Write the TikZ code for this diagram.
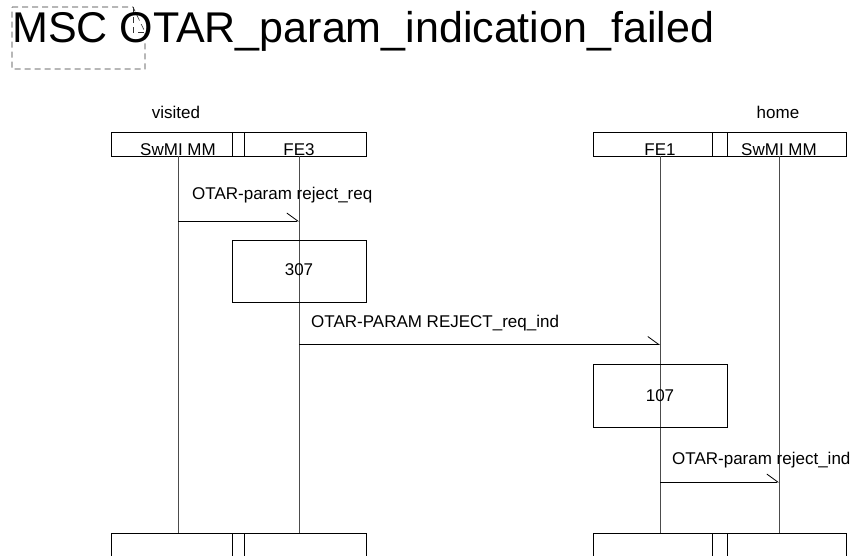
\documentclass[tikz,border=0pt]{standalone}
\usepackage{fontspec}
\setmainfont{Liberation Sans}
\usetikzlibrary{arrows.meta}
\begin{document}
\begin{tikzpicture}[x=1pt,y=-1pt,
  box/.style={draw, line width=0.8pt, inner sep=0pt, rectangle},
  lbl/.style={font=\fontsize{17}{20}\selectfont, inner sep=0pt},
  life/.style={line width=1pt, black!70},
  msg/.style={line width=0.8pt, -{Straight Barb[left, length=11pt, width=16pt, line width=0.8pt]}},
  frame/.style={line width=0.6pt, black!80, dash pattern=on 6pt off 4pt},
]
\useasboundingbox (0,0) rectangle (862,555);
\clip (0,0) rectangle (862,555);

% title and frame
\draw[frame] (12,7) -- (133,7) -- (145,32) -- (145,69) -- (12,69) -- cycle;
\draw[frame] (133,7) -- (133,32) -- (145,32);
\node[anchor=base west, inner sep=0pt, font=\fontsize{43}{48}\selectfont] (title) at (12,42) {MSC OTAR\_param\_indication\_failed};

% group labels
\node[lbl, anchor=base] (visited) at (176,118) {visited};
\node[lbl, anchor=base] (home) at (778,118) {home};

% header boxes
\node[box, minimum width=121pt, minimum height=24pt] (hA) at (171.5,144) {};
\node[box, minimum width=12pt, minimum height=24pt] (hAB) at (238,144) {};
\node[box, minimum width=122pt, minimum height=24pt] (hB) at (305,144) {};
\node[box, minimum width=119pt, minimum height=24pt] (hC) at (652.5,144) {};
\node[box, minimum width=15pt, minimum height=24pt] (hCD) at (719.5,144) {};
\node[box, minimum width=119pt, minimum height=24pt] (hD) at (786.5,144) {};

\node[lbl, anchor=base] (tA) at (178,155) {SwMI MM};
\node[lbl, anchor=base] (tB) at (299,155) {FE3};
\node[lbl, anchor=base] (tC) at (660,155) {FE1};
\node[lbl, anchor=base] (tD) at (779,155) {SwMI MM};

% footer boxes
\node[box, minimum width=121pt, minimum height=40pt] (fA) at (171.5,553) {};
\node[box, minimum width=12pt, minimum height=40pt] (fAB) at (238,553) {};
\node[box, minimum width=122pt, minimum height=40pt] (fB) at (305,553) {};
\node[box, minimum width=119pt, minimum height=40pt] (fC) at (652.5,553) {};
\node[box, minimum width=15pt, minimum height=40pt] (fCD) at (719.5,553) {};
\node[box, minimum width=119pt, minimum height=40pt] (fD) at (786.5,553) {};

% lifeline ends
\coordinate (lA1) at (178,156); \coordinate (lA2) at (178,533);
\coordinate (lB1) at (299,156); \coordinate (lB2) at (299,533);
\coordinate (lC1) at (660,156); \coordinate (lC2) at (660,533);
\coordinate (lD1) at (779,156); \coordinate (lD2) at (779,533);
\draw[life] (lA1) -- (lA2);
\draw[life] (lB1) -- (lB2);
\draw[life] (lC1) -- (lC2);
\draw[life] (lD1) -- (lD2);

% action boxes
\node[box, minimum width=134pt, minimum height=62pt] (a307) at (299,271) {};
\node[lbl, anchor=base] (t307) at (299,275) {307};
\node[box, minimum width=134pt, minimum height=63pt] (a107) at (660,395.5) {};
\node[lbl, anchor=base] (t107) at (660,401) {107};

% messages
\coordinate (m1s) at (178,221); \coordinate (m1e) at (299,221);
\coordinate (m2s) at (299,344.5); \coordinate (m2e) at (660,344.5);
\coordinate (m3s) at (660,482); \coordinate (m3e) at (779,482);
\draw[msg] (m1s) -- (m1e);
\draw[msg] (m2s) -- (m2e);
\draw[msg] (m3s) -- (m3e);
\node[lbl, anchor=base west] (l1) at (192,199) {OTAR-param reject\_req};
\node[lbl, anchor=base west] (l2) at (311,327) {OTAR-PARAM REJECT\_req\_ind};
\node[lbl, anchor=base west] (l3) at (672,464) {OTAR-param reject\_ind};
\end{tikzpicture}
\end{document}
